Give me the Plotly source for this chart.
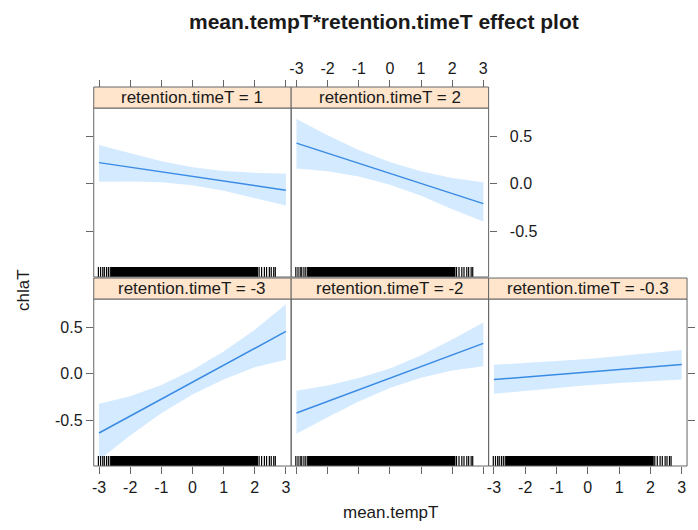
import plotly.graph_objects as go

# ---------------- data ----------------
x_grid = [-3, -2, -1, 0, 1, 2, 3]

strip_labels = ["retention.timeT = -3", "retention.timeT = -2", "retention.timeT = -0.3",
                "retention.timeT = 1", "retention.timeT = 2"]

fit_m3 = [-0.632, -0.451, -0.270, -0.090, 0.091, 0.272, 0.453]
lo_m3 = [-0.920, -0.660, -0.420, -0.220, -0.060, 0.070, 0.150]
up_m3 = [-0.320, -0.240, -0.120, 0.040, 0.240, 0.470, 0.745]

fit_m2 = [-0.419, -0.295, -0.170, -0.047, 0.078, 0.202, 0.326]
lo_m2 = [-0.640, -0.465, -0.295, -0.152, -0.042, 0.037, 0.080]
up_m2 = [-0.180, -0.125, -0.045, 0.058, 0.198, 0.367, 0.550]

fit_m03 = [-0.061, -0.034, -0.008, 0.019, 0.046, 0.072, 0.099]
lo_m03 = [-0.213, -0.184, -0.153, -0.121, -0.099, -0.078, -0.061]
up_m03 = [0.096, 0.116, 0.137, 0.159, 0.191, 0.222, 0.255]

fit_p1 = [0.223, 0.175, 0.127, 0.078, 0.030, -0.019, -0.068]
lo_p1 = [0.020, 0.025, 0.017, -0.017, -0.075, -0.154, -0.231]
up_p1 = [0.410, 0.325, 0.237, 0.173, 0.135, 0.116, 0.106]

fit_p2 = [0.429, 0.322, 0.216, 0.110, 0.003, -0.104, -0.210]
lo_p2 = [0.160, 0.132, 0.076, -0.010, -0.127, -0.269, -0.400]
up_p2 = [0.684, 0.512, 0.356, 0.230, 0.133, 0.061, 0.017]

# observed mean.tempT values (rug)
rug_sparse = [-3.02, -2.95, -2.88, -2.83, -2.76, -2.70, -2.64, -2.59,
              2.08, 2.14, 2.22, 2.31, 2.38, 2.47, 2.53, 2.61, 2.66]
rug_dense = [-2.55, -2.45, -2.35, -2.25, -2.15, -2.05, -1.95, -1.85, -1.75, -1.65,
             -1.55, -1.45, -1.35, -1.25, -1.15, -1.05, -0.95, -0.85, -0.75, -0.65,
             -0.55, -0.45, -0.35, -0.25, -0.15, -0.05, 0.05, 0.15, 0.25, 0.35,
             0.45, 0.55, 0.65, 0.75, 0.85, 0.95, 1.05, 1.15, 1.25, 1.35,
             1.45, 1.55, 1.65, 1.75, 1.85, 1.95, 2.02]

x_ticks = [-3, -2, -1, 0, 1, 2, 3]
x_tick_labels = ["-3", "-2", "-1", "0", "1", "2", "3"]
y_ticks = [-0.5, 0.0, 0.5]
y_tick_labels = ["-0.5", "0.0", "0.5"]

title_text = "mean.tempT*retention.timeT effect plot"
x_title = "mean.tempT"
y_title = "chlaT"

# ---------------- layout geometry ----------------
W, H = 698, 530
cols = [(92, 290), (290, 488), (488, 687)]
rows = {"top": (108, 277), "bottom": (299, 466)}
strip_h = 21
XR = [-3.17, 3.17]
YR = [-0.985, 0.80]
FONT = "Liberation Sans, Arial, sans-serif"
TXT = "#1a1a1a"
BORDER = "#666666"
STRIP_BG = "#ffe5cc"
LINE_C = "#3a8be4"
BAND_C = "rgba(0,128,255,0.17)"

def xdom(c):
    return [cols[c][0] / W, cols[c][1] / W]

def ydom(r):
    t, b = rows[r]
    return [1 - b / H, 1 - t / H]

panels = [
    dict(col=0, row="bottom", fit=fit_m3, lo=lo_m3, up=up_m3, label=strip_labels[0]),
    dict(col=1, row="bottom", fit=fit_m2, lo=lo_m2, up=up_m2, label=strip_labels[1]),
    dict(col=2, row="bottom", fit=fit_m03, lo=lo_m03, up=up_m03, label=strip_labels[2]),
    dict(col=0, row="top", fit=fit_p1, lo=lo_p1, up=up_p1, label=strip_labels[3]),
    dict(col=1, row="top", fit=fit_p2, lo=lo_p2, up=up_p2, label=strip_labels[4]),
]

fig = go.Figure()
shapes = []
annotations = []
rug_y0 = YR[0]
rug_y1 = YR[0] + 10.0 / 94.0


def rug_segments(vals):
    xs, ys = [], []
    for v in vals:
        xs += [v, v, None]
        ys += [rug_y0, rug_y1, None]
    return xs, ys


for i, p in enumerate(panels, start=1):
    xa = "x" if i == 1 else f"x{i}"
    ya = "y" if i == 1 else f"y{i}"
    band_x = x_grid + x_grid[::-1]
    band_y = p["up"] + p["lo"][::-1]
    fig.add_trace(go.Scatter(x=band_x, y=band_y, fill="toself", fillcolor=BAND_C,
                             line=dict(width=0), mode="lines", hoverinfo="skip",
                             showlegend=False, xaxis=xa, yaxis=ya))
    fig.add_trace(go.Scatter(x=x_grid, y=p["fit"], mode="lines",
                             line=dict(color=LINE_C, width=1.5),
                             showlegend=False, xaxis=xa, yaxis=ya))
    sx, sy = rug_segments(rug_sparse)
    fig.add_trace(go.Scatter(x=sx, y=sy, mode="lines",
                             line=dict(color="black", width=1.2, simplify=False),
                             showlegend=False, hoverinfo="skip", xaxis=xa, yaxis=ya))
    dx, dy = rug_segments(rug_dense)
    fig.add_trace(go.Scatter(x=dx, y=dy, mode="lines",
                             line=dict(color="black", width=5, simplify=False),
                             showlegend=False, hoverinfo="skip", xaxis=xa, yaxis=ya))

    c, r = p["col"], p["row"]
    x0, x1 = cols[c]
    t, b = rows[r]
    shapes.append(dict(type="rect", xref="paper", yref="paper",
                       x0=x0 / W, x1=x1 / W, y0=1 - b / H, y1=1 - t / H,
                       line=dict(color=BORDER, width=1), fillcolor="rgba(0,0,0,0)"))
    st_t, st_b = t - strip_h, t
    shapes.append(dict(type="rect", xref="paper", yref="paper",
                       x0=x0 / W, x1=x1 / W, y0=1 - st_b / H, y1=1 - st_t / H,
                       line=dict(color=BORDER, width=1), fillcolor=STRIP_BG))
    annotations.append(dict(text=p["label"], xref="paper", yref="paper",
                            x=(x0 + x1) / 2 / W, y=1 - (st_t + st_b) / 2 / H,
                            xanchor="center", yanchor="middle", showarrow=False,
                            font=dict(family=FONT, size=17, color=TXT)))

tick_common = dict(ticks="outside", ticklen=7, tickwidth=1, tickcolor=BORDER,
                   showgrid=False, zeroline=False, showline=False,
                   tickfont=dict(family=FONT, size=16, color=TXT))

layout = dict(width=W, height=H, margin=dict(l=0, r=0, t=0, b=0),
              paper_bgcolor="white", plot_bgcolor="white", showlegend=False)

x_cfg = {
    1: dict(side="bottom", labels=True),
    2: dict(side="bottom", labels=False),
    3: dict(side="bottom", labels=True),
    4: dict(side="top", labels=False),
    5: dict(side="top", labels=True),
}
y_cfg = {
    1: dict(side="left", labels=True, ticks=True),
    2: dict(side="left", labels=False, ticks=False),
    3: dict(side="right", labels=False, ticks=True),
    4: dict(side="left", labels=False, ticks=True),
    5: dict(side="right", labels=True, ticks=True),
}
strip_top_pos = 1 - (rows["top"][0] - strip_h) / H

for i, p in enumerate(panels, start=1):
    xk = "xaxis" if i == 1 else f"xaxis{i}"
    yk = "yaxis" if i == 1 else f"yaxis{i}"
    ya = "y" if i == 1 else f"y{i}"
    xa = "x" if i == 1 else f"x{i}"
    xc = dict(tick_common, domain=xdom(p["col"]), range=XR, tickvals=x_ticks,
              ticktext=x_tick_labels, showticklabels=x_cfg[i]["labels"],
              side=x_cfg[i]["side"])
    if x_cfg[i]["side"] == "top":
        xc.update(anchor="free", position=strip_top_pos)
    else:
        xc.update(anchor=ya)
    yc = dict(tick_common, domain=ydom(p["row"]), range=YR, tickvals=y_ticks,
              ticktext=y_tick_labels, showticklabels=y_cfg[i]["labels"],
              side=y_cfg[i]["side"], anchor=xa)
    if y_cfg[i]["side"] == "right":
        yc["ticklabelstandoff"] = 10
    if not y_cfg[i]["ticks"]:
        yc["ticks"] = ""
    layout[xk] = xc
    layout[yk] = yc

annotations.append(dict(text=f"<b>{title_text}</b>", xref="paper", yref="paper",
                        x=383 / W, y=1 - 22 / H, xanchor="center", yanchor="middle",
                        showarrow=False, font=dict(family=FONT, size=21, color=TXT)))
annotations.append(dict(text=x_title, xref="paper", yref="paper",
                        x=390 / W, y=1 - 512 / H, xanchor="center", yanchor="middle",
                        showarrow=False, font=dict(family=FONT, size=17, color=TXT)))
annotations.append(dict(text=y_title, xref="paper", yref="paper",
                        x=21 / W, y=1 - 290 / H, xanchor="center", yanchor="middle",
                        textangle=-90, showarrow=False,
                        font=dict(family=FONT, size=17, color=TXT)))

layout["shapes"] = shapes
layout["annotations"] = annotations
fig.update_layout(**layout)
fig.write_html("out.html")
